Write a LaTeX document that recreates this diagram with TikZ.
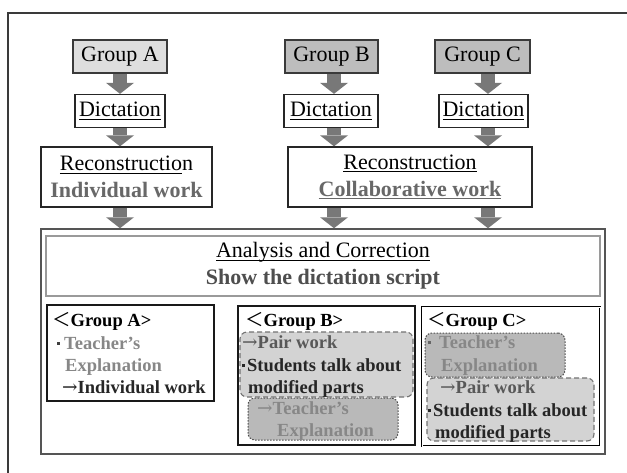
\documentclass[tikz,border=0pt]{standalone}
\usepackage{fontspec}
\setmainfont{Liberation Serif}
\newfontfamily\arrfont{DejaVu Serif}
\newfontfamily\cjkfont{Noto Sans CJK JP}
\usetikzlibrary{arrows.meta}
\definecolor{frameC}{HTML}{3A3A3A}
\definecolor{fillA}{HTML}{DEDEDE}
\definecolor{fillBC}{HTML}{BDBDBD}
\definecolor{arrowC}{HTML}{787878}
\definecolor{grayTxt}{HTML}{686868}
\definecolor{showTxt}{HTML}{4E4E4E}
\definecolor{teachTxt}{HTML}{878787}
\definecolor{pairTxt}{HTML}{585858}
\definecolor{darkTxt}{HTML}{262626}
\definecolor{lightFill}{HTML}{D3D3D3}
\definecolor{darkFill}{HTML}{B9B9B9}
\definecolor{anBorder}{HTML}{9A9A9A}
\definecolor{bigBorder}{HTML}{555555}
\newsavebox\ulbox
\newcommand\myul[1]{\sbox\ulbox{#1}\rlap{\rule[-3pt]{\wd\ulbox}{1.1pt}}\usebox\ulbox}
\newcommand\mybul[1]{\raisebox{4.5pt}{\rule{3pt}{3pt}}\hspace{#1}}
\newcommand\rarr{{\arrfont\mdseries →}}
\newcommand\lang{{\cjkfont\mdseries ＜}}
\begin{document}
\begin{tikzpicture}[x=1pt,y=-1pt,
  sz/.style 2 args={minimum width=#1, minimum height=#2},
  topbox/.style={draw=frameC, line width=1.4pt, inner sep=0pt, font=\fontsize{22}{26}\selectfont},
  dictbox/.style={draw=black!85, line width=1.3pt, fill=white, inner sep=0pt, font=\fontsize{22}{26}\selectfont},
  recbox/.style={draw=black!85, line width=1.3pt, fill=white, inner sep=0pt, align=center, font=\fontsize{22}{27}\selectfont},
  grpbox/.style={draw=black!90, line width=1.2pt, inner sep=0pt},
  dashbox/.style={draw=black!55, dash pattern=on 5pt off 3pt, line width=1.1pt, fill=lightFill, rounded corners=7pt, inner sep=0pt},
  dotbox/.style={draw=black!70, dash pattern=on 1.5pt off 1.5pt, line width=1pt, fill=darkFill, rounded corners=7pt, inner sep=0pt},
  txt/.style={anchor=base west, inner sep=0pt, font=\fontsize{18.5}{22}\selectfont\bfseries},
  blk/.style={draw=arrowC, line width=14pt, -{Triangle[width=28pt,length=11pt,line width=0pt]}},
]
\useasboundingbox (0,0) rectangle (627,472);
\fill[white] (0,0) rectangle (627,472);
\begin{scope}
\clip (0,0) rectangle (627,472);
\draw[draw=frameC, line width=1.5pt] (8,13) rectangle (650,500);
\end{scope}

% top row
\node[topbox, fill=fillA, sz={94pt}{33pt}] (gA) at (120,56.5) {Group A};
\node[topbox, fill=fillBC, sz={93pt}{33pt}] (gB) at (331.5,56.5) {Group B};
\node[topbox, fill=fillBC, sz={95pt}{33pt}] (gC) at (482.5,56.5) {Group C};

\node[dictbox, sz={90pt}{33pt}] (dA) at (120,111) {\myul{Dictation}};
\node[dictbox, sz={94pt}{33pt}] (dB) at (331,111) {\myul{Dictation}};
\node[dictbox, sz={89pt}{33pt}] (dC) at (483.5,111) {\myul{Dictation}};

\node[recbox, sz={171pt}{60pt}] (rA) at (126.5,177) {\myul{Reconstructio}n\\\textbf{\color{grayTxt}Individual work}};
\node[recbox, sz={244pt}{60pt}] (rB) at (410,177) {\myul{Reconstruction}\\\textbf{\color{grayTxt}\myul{Collaborative work}}};

\coordinate (colA) at (120,0);
\coordinate (colB) at (334,0);
\coordinate (colC) at (488,0);

% big box
\node[draw=bigBorder, line width=1.5pt, inner sep=0pt, sz={564pt}{225pt}] (big) at (323,341.5) {};
\node[draw=anBorder, line width=1.2pt, inner sep=0pt, align=center, sz={554pt}{60pt}, font=\fontsize{22}{27}\selectfont] (an) at (323,266)
  {\myul{Analysis and Correction}\\\textbf{\color{showTxt}Show the dictation script}};

% arrows
\draw[blk] (gA.south -| colA) -- (dA.north -| colA);
\draw[blk] (gB.south -| colB) -- (dB.north -| colB);
\draw[blk] (gC.south -| colC) -- (dC.north -| colC);
\draw[blk] (dA.south -| colA) -- (rA.north -| colA);
\draw[blk] (dB.south -| colB) -- (rB.north -| colB);
\draw[blk] (dC.south -| colC) -- (rB.north -| colC);
\draw[blk] (rA.south -| colA) -- (big.north -| colA);
\draw[blk] (rB.south -| colB) -- (big.north -| colB);
\draw[blk] (rB.south -| colC) -- (big.north -| colC);

% group boxes
\node[grpbox, sz={167pt}{96pt}] (cA) at (130.5,353) {};
\node[grpbox, sz={177pt}{139pt}] (cB) at (326.5,375.5) {};
\node[draw=black, double=white, double distance=1pt, line width=0.8pt, inner sep=0pt, sz={178pt}{139pt}] (cC) at (511,376.5) {};

\node[dashbox, sz={173pt}{65pt}] (b1) at (326.5,364.5) {};
\node[dotbox, sz={150pt}{42pt}] (b2) at (323,419) {};
\node[dotbox, sz={140pt}{44pt}] (c1) at (495,355) {};
\node[dashbox, sz={167pt}{63pt}] (c2) at (510.5,409.5) {};

% Group A text
\node[txt] (ta1) at (52,326) {\lang Group A>};
\node[txt, text=teachTxt] (ta2) at (57,349) {{\color{black!75}\mybul{4pt}}Teacher’s};
\node[txt, text=teachTxt] (ta3) at (65,371) {Explanation};
\node[txt, text=darkTxt] (ta4) at (62,393) {\rarr Individual work};

% Group B text
\node[txt] (tb1) at (245,326) {\lang Group B>};
\node[txt, text=pairTxt] (tb2) at (242,348) {\rarr Pair work};
\node[txt, text=darkTxt] (tb3) at (242,371) {\mybul{2pt}Students talk about};
\node[txt, text=darkTxt] (tb4) at (248,393) {modified parts};
\node[txt, text=teachTxt] (tb5) at (257,414) {\rarr Teacher’s};
\node[txt, text=teachTxt] (tb6) at (277,436) {Explanation};

% Group C text
\node[txt] (tc1) at (427,326) {\lang Group C>};
\node[txt, text=teachTxt] (tc2) at (428,348) {{\color{black!60}\mybul{8pt}}Teacher’s};
\node[txt, text=teachTxt] (tc3) at (441,371) {Explanation};
\node[txt, text=pairTxt] (tc4) at (440,393) {\rarr Pair work};
\node[txt, text=darkTxt] (tc5) at (428,416) {\mybul{2pt}Students talk about};
\node[txt, text=darkTxt] (tc6) at (435,438) {modified parts};
\end{tikzpicture}
\end{document}
